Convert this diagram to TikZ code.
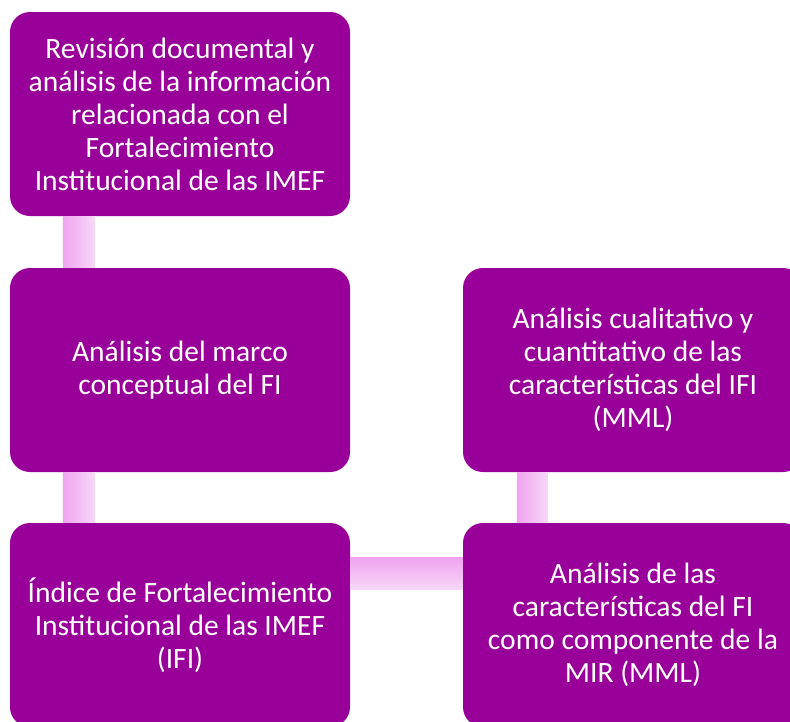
\documentclass[tikz,border=0pt]{standalone}
\usepackage{fontspec}
\setmainfont{Carlito}
\usetikzlibrary{positioning,calc}
\definecolor{boxpurple}{HTML}{990099}
\definecolor{linkdark}{HTML}{F0A4F0}
\definecolor{linklight}{HTML}{F8D8F8}

\begin{document}
\begin{tikzpicture}
    [x=1pt,y=1pt,
     stepbox/.style={rectangle,rounded corners=20pt,fill=boxpurple,text=white,
        minimum width=340pt,minimum height=204pt,align=center,inner sep=0pt,
        font=\fontsize{29.5}{33}\selectfont},
     vlink/.style={left color=linkdark,right color=linklight,draw=none},
     hlink/.style={top color=linkdark,bottom color=linklight,draw=none}]

    \useasboundingbox (0,0) rectangle (790,-721);
    \clip (0,0) rectangle (790,-721);

    % boxes
    \node[stepbox] (revision) at (180,-114) {Revisión documental y\\análisis de la información\\relacionada con el\\Fortalecimiento\\Institucional de las IMEF};
    \node[stepbox] (marco) at (180,-370) {Análisis del marco\\conceptual del FI};
    \node[stepbox] (indice) at (180,-625) {Índice de Fortalecimiento\\Institucional de las IMEF\\(IFI)};
    \node[stepbox] (comp) at (633,-625) {Análisis de las\\características del FI\\como componente de la\\MIR (MML)};
    \node[stepbox] (cuali) at (633,-370) {Análisis cualitativo y\\cuantitativo de las\\características del IFI\\(MML)};

    % links
    \fill[vlink] ($(revision.south west)+(53,0)$) rectangle ($(marco.north west)+(85,0)$);
    \fill[vlink] ($(marco.south west)+(53,0)$) rectangle ($(indice.north west)+(85,0)$);
    \fill[hlink] ($(indice.north east)+(0,-35)$) rectangle ($(comp.north west)+(0,-67)$);
    \fill[vlink] ($(cuali.south west)+(54,0)$) rectangle ($(comp.north west)+(85,0)$);

\end{tikzpicture}
\end{document}
